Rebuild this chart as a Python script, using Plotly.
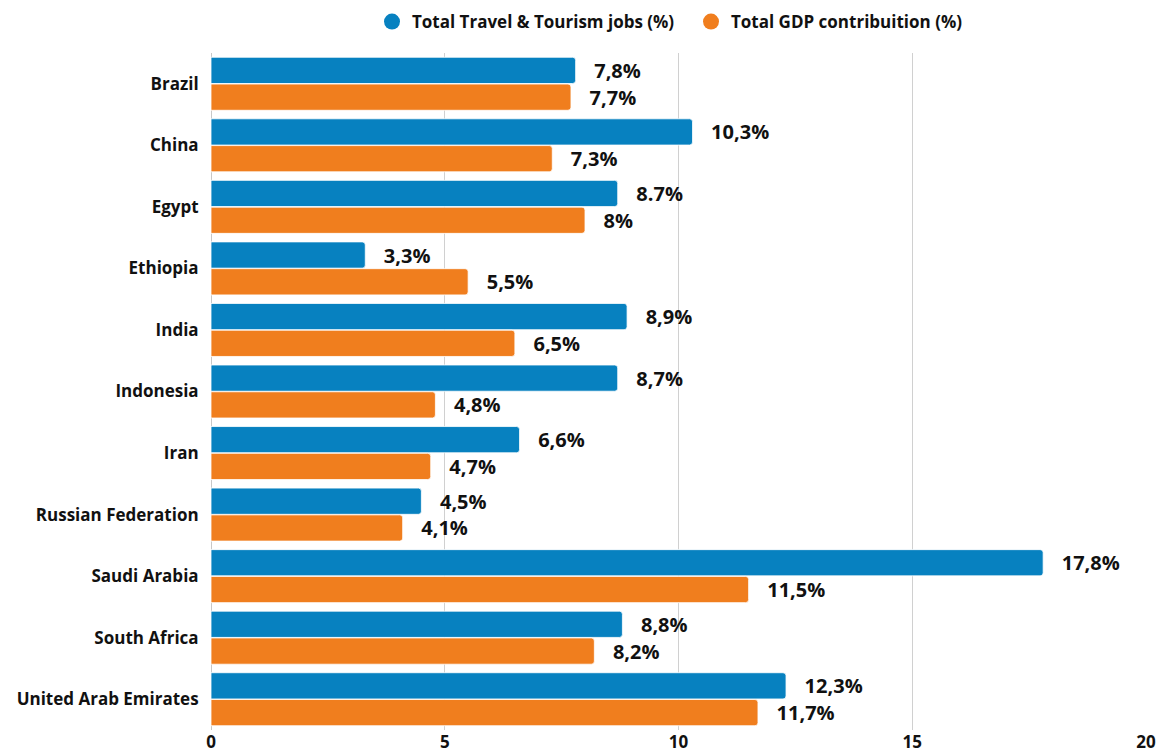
import plotly.graph_objects as go

countries = ["Brazil", "China", "Egypt", "Ethiopia", "India", "Indonesia", "Iran",
             "Russian Federation", "Saudi Arabia", "South Africa", "United Arab Emirates"]
jobs = [7.8, 10.3, 8.7, 3.3, 8.9, 8.7, 6.6, 4.5, 17.8, 8.8, 12.3]
gdp = [7.7, 7.3, 8.0, 5.5, 6.5, 4.8, 4.7, 4.1, 11.5, 8.2, 11.7]
jobs_labels = ["7,8%", "10,3%", "8.7%", "3,3%", "8,9%", "8,7%", "6,6%", "4,5%", "17,8%", "8,8%", "12,3%"]
gdp_labels = ["7,7%", "7,3%", "8%", "5,5%", "6,5%", "4,8%", "4,7%", "4,1%", "11,5%", "8,2%", "11,7%"]
x_ticks = [0, 5, 10, 15, 20]

BLUE = "#0781C0"
ORANGE = "#F07E1E"
FONT = "Open Sans"

fig = go.Figure()
for name, vals, labels, col in [("Total Travel & Tourism jobs (%)", jobs, jobs_labels, BLUE),
                                ("Total GDP contribuition (%)", gdp, gdp_labels, ORANGE)]:
    fig.add_trace(go.Bar(
        y=countries, x=vals, orientation="h", name=name,
        marker=dict(color=col, line=dict(color="rgba(255,255,255,0.8)", width=1)),
        text=["   " + t for t in labels], textposition="outside",
        textfont=dict(family=FONT, size=20, color="#111111", weight="bold"),
        constraintext="none", cliponaxis=False, showlegend=False,
    ))
    fig.add_trace(go.Scatter(
        x=[None], y=[None], mode="markers", name=name,
        marker=dict(symbol="circle", size=17, color=col),
    ))

fig.update_layout(
    width=1158, height=753,
    margin=dict(l=211, r=12, t=53, b=23),
    paper_bgcolor="white", plot_bgcolor="white",
    barmode="group", bargap=0.13, bargroupgap=0.02,
    barcornerradius=3,
    font=dict(family=FONT, color="#111111"),
    legend=dict(orientation="h", x=372 / 1158, xanchor="left", xref="container",
                y=1 - 22 / 753, yanchor="middle", yref="container",
                font=dict(family=FONT, size=17, color="#111111", weight="bold"),
                entrywidth=274, traceorder="normal"),
    showlegend=True,
)
fig.update_xaxes(range=[0, 20], tickvals=x_ticks, showgrid=True, gridcolor="#d0d0d0", gridwidth=1,
                 zeroline=True, zerolinecolor="#c8c8c8", zerolinewidth=1,
                 tickfont=dict(family=FONT, size=17, color="#111111", weight="bold"),
                 automargin=False, ticklen=0, ticks="")
fig.update_yaxes(autorange="reversed", showgrid=False, automargin=False,
                 tickfont=dict(family=FONT, size=17, color="#111111", weight="bold"),
                 ticks="outside", ticklen=8, tickcolor="rgba(0,0,0,0)")

fig.write_html("out.html", config={"displayModeBar": False},
               post_script="document.body.style.margin='0';document.body.style.overflow='hidden';")
